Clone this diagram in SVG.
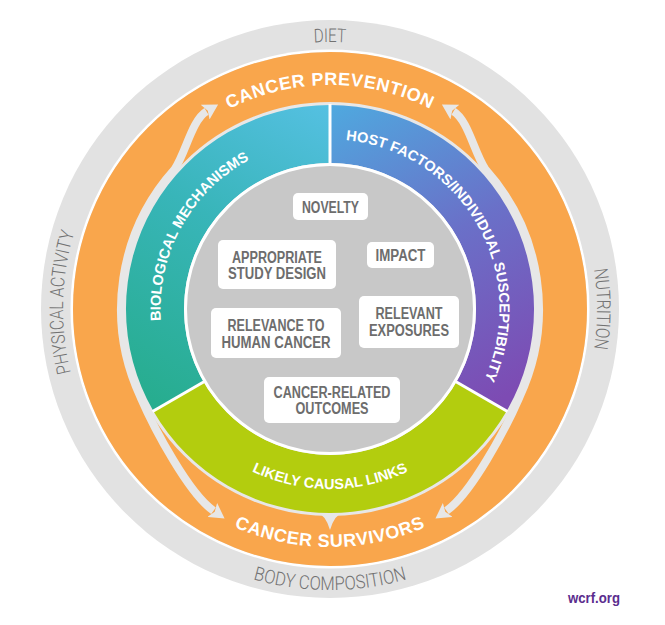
<svg xmlns="http://www.w3.org/2000/svg" width="665" height="625" viewBox="0 0 665 625">
<defs>
<linearGradient id="gTeal" gradientUnits="userSpaceOnUse" x1="330" y1="105" x2="160" y2="405">
<stop offset="0" stop-color="#55c0e2"/><stop offset="0.45" stop-color="#38b5b9"/><stop offset="1" stop-color="#27ad8f"/>
</linearGradient>
<linearGradient id="gPurple" gradientUnits="userSpaceOnUse" x1="330" y1="105" x2="490" y2="405">
<stop offset="0" stop-color="#4fa9df"/><stop offset="0.5" stop-color="#6a70c8"/><stop offset="1" stop-color="#7d4bb3"/>
</linearGradient>
<marker id="ah" viewBox="0 0 15 17" refX="1.5" refY="8.5" markerWidth="15" markerHeight="17" markerUnits="userSpaceOnUse" orient="auto-start-reverse">
<path d="M0,0 L15,8.5 L0,17 L3,8.5 Z" fill="#e7e7e7"/>
</marker>
<path id="pBand" d="M330,576 A267,267 0 1 1 330,42 A267,267 0 1 1 330,576"/>
<path id="pBottom" d="M49,309 A281,281 0 0 0 611,309"/>
<path id="pPrev" d="M106,309 A224,224 0 0 1 554,309"/>
<path id="pSurv" d="M92,309 A238,238 0 0 0 568,309"/>
<path id="pBio" d="M330,478.6 A169.6,169.6 0 0 1 330,139.4"/>
<path id="pHost" d="M330,139.4 A169.6,169.6 0 0 1 330,478.6"/>
<path id="pLinks" d="M150,309 A180,180 0 0 0 510,309"/>
</defs>
<style>
.band{font-family:Roboto,'Liberation Sans',sans-serif;font-weight:300;font-size:19px;fill:#727272}
.big{font-family:'Liberation Sans',Arial,sans-serif;font-weight:bold;font-size:18px;fill:#fff;letter-spacing:0.6px}
.seg{font-family:'Liberation Sans',Arial,sans-serif;font-weight:bold;font-size:14.5px;fill:#fff}
.box rect{fill:#fff}
.box text{font-family:'Liberation Sans',Arial,sans-serif;font-weight:bold;font-size:16px;fill:#6d6d6d;text-anchor:middle}
.shaft{fill:none;stroke:#e7e7e7;stroke-width:8;marker-start:url(#ah);marker-end:url(#ah)}
</style>
<rect width="665" height="625" fill="#fff"/>

<g id="outer-ring">
<circle cx="330" cy="309" r="289" fill="#e2e2e2"/>
<circle cx="330" cy="309" r="259.5" fill="#fff"/>
<circle cx="330" cy="309" r="257" fill="#e7e7e7"/>
<text class="band"><textPath href="#pBand" startOffset="50%" text-anchor="middle" textLength="32" lengthAdjust="spacingAndGlyphs">DIET</textPath></text>
<text class="band"><textPath href="#pBand" startOffset="25.4%" text-anchor="middle" textLength="142" lengthAdjust="spacingAndGlyphs">PHYSICAL ACTIVITY</textPath></text>
<text class="band"><textPath href="#pBand" startOffset="75%" text-anchor="middle" textLength="80" lengthAdjust="spacingAndGlyphs">NUTRITION</textPath></text>
<text class="band"><textPath href="#pBottom" startOffset="50%" text-anchor="middle" textLength="156" lengthAdjust="spacingAndGlyphs">BODY COMPOSITION</textPath></text>
</g>

<g id="orange-ring">
<circle cx="330" cy="309" r="232" fill="none" stroke="#f9a64c" stroke-width="50"/>
</g>

<g id="connectors">
<path class="shaft" d="M206.5,111.4 C192,120 185.9,152.2 174.7,169.2 A209,209 0 0 0 140.6,397.3 C154.5,429.4 188.9,493.7 213.5,510.8"/>
<path class="shaft" d="M453.5,111.4 C468,120 474.1,152.2 485.3,169.2 A209,209 0 0 1 519.4,397.3 C505.5,429.4 471.1,493.7 446.5,510.8"/>
<path d="M314,510 Q326,515 330,530 Q334,515 346,510 Z" fill="#e7e7e7"/>
</g>

<g id="cancer-prevention">
<text class="big"><textPath href="#pPrev" startOffset="50%" text-anchor="middle">CANCER PREVENTION</textPath></text>
</g>
<g id="cancer-survivors">
<text class="big"><textPath href="#pSurv" startOffset="50%" text-anchor="middle">CANCER SURVIVORS</textPath></text>
</g>

<g id="biological-mechanisms">
<path d="M153.3,411 A204,204 0 0 1 330,105 L330,163 A146,146 0 0 0 203.6,382 Z" fill="url(#gTeal)"/>
<text class="seg"><textPath href="#pBio" startOffset="66%" text-anchor="middle">BIOLOGICAL MECHANISMS</textPath></text>
</g>
<g id="host-factors">
<path d="M330,105 A204,204 0 0 1 506.7,411 L456.4,382 A146,146 0 0 0 330,163 Z" fill="url(#gPurple)"/>
<text class="seg"><textPath href="#pHost" startOffset="33.3%" text-anchor="middle">HOST FACTORS/INDIVIDUAL SUSCEPTIBILITY</textPath></text>
</g>
<g id="likely-causal-links">
<path d="M506.7,411 A204,204 0 0 1 153.3,411 L203.6,382 A146,146 0 0 0 456.4,382 Z" fill="#b3cd0e"/>
<text class="seg"><textPath href="#pLinks" startOffset="50%" text-anchor="middle">LIKELY CAUSAL LINKS</textPath></text>
</g>
<g id="separators" stroke="#fff" stroke-width="3">
<line x1="330" y1="164" x2="330" y2="104"/>
<line x1="455.6" y1="381.5" x2="507.5" y2="411.5"/>
<line x1="204.4" y1="381.5" x2="152.5" y2="411.5"/>
</g>

<g id="core">
<circle cx="330" cy="309" r="144.5" fill="#c8c8c8" stroke="#fff" stroke-width="3"/>
</g>

<g id="novelty" class="box">
<rect x="293" y="193" width="75" height="27" rx="5"/>
<text x="330.5" y="212.5" textLength="57" lengthAdjust="spacingAndGlyphs">NOVELTY</text>
</g>
<g id="appropriate-study-design" class="box">
<rect x="218" y="240" width="118" height="49" rx="5"/>
<text x="277" y="262.5" textLength="90" lengthAdjust="spacingAndGlyphs">APPROPRIATE</text>
<text x="277" y="279" textLength="98" lengthAdjust="spacingAndGlyphs">STUDY DESIGN</text>
</g>
<g id="impact" class="box">
<rect x="367" y="242" width="67" height="26" rx="5"/>
<text x="400.5" y="260.8" textLength="50" lengthAdjust="spacingAndGlyphs">IMPACT</text>
</g>
<g id="relevance-to-human-cancer" class="box">
<rect x="211" y="308" width="130" height="50" rx="5"/>
<text x="276" y="330.8" textLength="97" lengthAdjust="spacingAndGlyphs">RELEVANCE TO</text>
<text x="276" y="347.5" textLength="109" lengthAdjust="spacingAndGlyphs">HUMAN CANCER</text>
</g>
<g id="relevant-exposures" class="box">
<rect x="359" y="296" width="100" height="52" rx="5"/>
<text x="409" y="319" textLength="67" lengthAdjust="spacingAndGlyphs">RELEVANT</text>
<text x="409" y="335.8" textLength="80" lengthAdjust="spacingAndGlyphs">EXPOSURES</text>
</g>
<g id="cancer-related-outcomes" class="box">
<rect x="264" y="377" width="136" height="46" rx="5"/>
<text x="332" y="397.5" textLength="117" lengthAdjust="spacingAndGlyphs">CANCER-RELATED</text>
<text x="332" y="414" textLength="73" lengthAdjust="spacingAndGlyphs">OUTCOMES</text>
</g>

<text x="568" y="603" font-family="'Liberation Sans',Arial,sans-serif" font-weight="bold" font-size="15" fill="#5b2d8e" textLength="52" lengthAdjust="spacingAndGlyphs">wcrf.org</text>
</svg>
